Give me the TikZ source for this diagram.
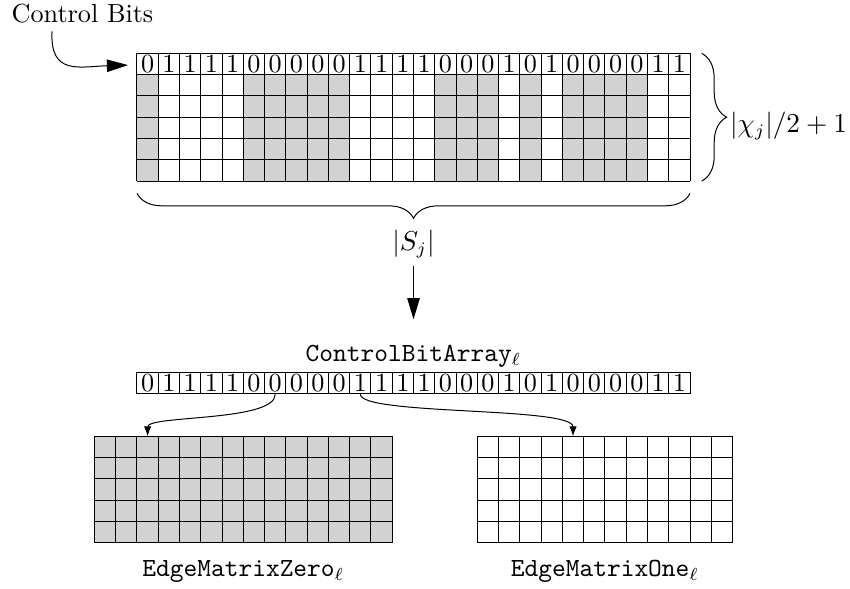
\documentclass[tikz,border=0pt]{standalone}
\usepackage{amsmath,amssymb}
\usepackage{tikz}
\usetikzlibrary{arrows.meta, decorations.pathreplacing, positioning}

\tikzset{
    bitcell/.style={draw, minimum size=0.3cm, inner sep=0pt},
    bigarrow/.style={-{Triangle[length=8.5pt,width=5pt]}},
    smallarrow/.style={-{Latex[length=4pt,width=3pt]}},
    curly/.style={decorate, decoration={brace, amplitude=10pt}}
}

\begin{document}
\begin{tikzpicture}[x=0.3cm, y=0.3cm, font=\fontsize{10.5}{12.6}\selectfont]
        \useasboundingbox (-6.44,-19.14) rectangle (33.52,8.51);

        \def\bits{0,1,1,1,1,0,0,0,0,0,1,1,1,1,0,0,0,1,0,1,0,0,0,0,1,1}

        \foreach \b [count=\i from 0] in \bits{
            \ifnum\b=0
                \fill[gray!35] (\i,0) rectangle (\i+1,5);
            \fi
            \node (t\i) at (\i+0.5,5.5) {\b};
            \node[bitcell] (b\i) at (\i+0.5,-9.5) {\b};
        }
        \draw[step=1] (0,0) grid (26,6);

        \node[anchor=base] (ctrl) at (-2.56,7.475) {Control Bits};
        \coordinate (hdr) at (-0.42,5.45);
        \draw[bigarrow] ([xshift=-0.43cm]ctrl.south) .. controls (-4.1,4.95) and (-2.7,5.38) .. (hdr);

        \draw[curly] (26.55,6) -- (26.55,0);
        \node[anchor=west] (chi) at (27.47,2.6) {$|\chi_j|/2+1$};
        \draw[curly] (26,-0.58) -- (0,-0.58) node[midway, below=11pt] (sj) {$|S_j|$};

        \node[anchor=base] (cba) at (13,-8.5) {\texttt{ControlBitArray}$_\ell$};
        \draw[bigarrow, shorten >=7pt] (sj) -- (cba);

        \fill[gray!35] (-2,-17) rectangle (12,-12);
        \draw[step=1] (-2,-17) grid (12,-12);
        \draw[step=1] (16,-17) grid (28,-12);
        \coordinate (zero) at (0.5,-12);
        \coordinate (one) at (20.5,-12);
        \draw[smallarrow] (b6.south) .. controls +(0,-1.3) and +(0,1.0) .. (zero);
        \draw[smallarrow] (b10.south) .. controls +(0,-1.0) and +(0,1.4) .. (one);

        \node[anchor=base] (emz) at (5,-18.6) {\texttt{EdgeMatrixZero}$_\ell$};
        \node[anchor=base] (emo) at (22,-18.6) {\texttt{EdgeMatrixOne}$_\ell$};
    \end{tikzpicture}
\end{document}
